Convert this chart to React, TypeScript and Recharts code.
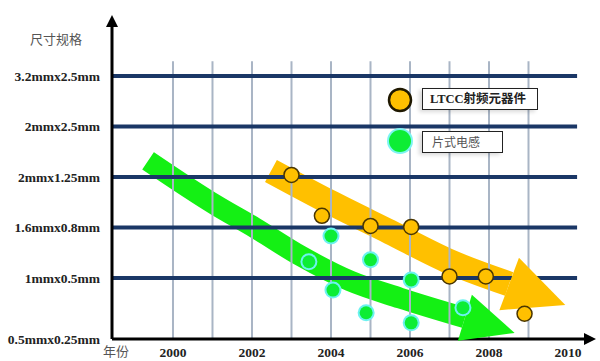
import React from "react";
import { ComposedChart, Line, Scatter, XAxis, YAxis, ReferenceLine } from "recharts";

// axis ranges (years / size levels)
const X_MIN = 1998.456;
const X_MAX = 2010.481;
const Y_MIN = -0.21;
const Y_MAX = 6.03;

const yearTicks = [2000, 2002, 2004, 2006, 2008, 2010];
const gridYears = [2000, 2001, 2002, 2003, 2004, 2005, 2006, 2007, 2008, 2009];
const gridEndYear = 2010.23;
const gridTopLevel = 5.29;

const sizeLabels = ["0.5mmx0.25mm", "1mmx0.5mm", "1.6mmx0.8mm", "2mmx1.25mm", "2mmx2.5mm", "3.2mmx2.5mm"];
const sizeLevels = [Y_MIN, 1, 2, 3, 4, 5];

// LTCC RF components
const ltccYears = [2003, 2003.77, 2005, 2006.03, 2007, 2007.92, 2008.9];
const ltccSizes = [3.04, 2.23, 2.03, 2.01, 1.03, 1.03, 0.29];

// chip inductors
const inductorYears = [2003.44, 2004.0, 2005.0, 2004.05, 2004.89, 2006.03, 2006.03, 2007.34];
const inductorSizes = [1.32, 1.83, 1.36, 0.76, 0.31, 0.96, 0.11, 0.41];

// trend arrows
const greenTrendYears = [1999.37, 2001.11, 2002.08, 2003.22, 2004.48, 2005.75, 2007.39];
const greenTrendSizes = [3.32, 2.43, 1.99, 1.44, 0.94, 0.6, 0.21];
const orangeTrendYears = [2002.48, 2003.97, 2005.49, 2007.01, 2008.51];
const orangeTrendSizes = [3.12, 2.5, 1.91, 1.32, 0.88];

const zip = (xs: number[], ys: number[]) => xs.map((x, i) => ({ x, y: ys[i] }));

const ltccData = zip(ltccYears, ltccSizes);
const inductorData = zip(inductorYears, inductorSizes);
const greenTrend = zip(greenTrendYears, greenTrendSizes);
const orangeTrend = zip(orangeTrendYears, orangeTrendSizes);

const ORANGE = "#ffc000";
const GREEN = "#14f014";
const NAVY = "#1a3766";
const GRID_GREY = "#a9b5c5";

// arrow head drawn on the last point of a thick line
const arrowHead = (fill: string, len: number, half: number, count: number) => (props: any) => {
    const { cx, cy, index, points } = props;
    if (index !== count - 1) return <g key={`ah-${index}`} />;
    let dx = 1;
    let dy = 0.3;
    if (points && points.length > 1) {
        const prev = points[points.length - 2];
        dx = cx - prev.x;
        dy = cy - prev.y;
    }
    const d = Math.hypot(dx, dy);
    dx /= d;
    dy /= d;
    const tip = `${cx + dx * len},${cy + dy * len}`;
    const b1 = `${cx - dy * half},${cy + dx * half}`;
    const b2 = `${cx + dy * half},${cy - dx * half}`;
    return <polygon key={`ah-${index}`} points={`${b1} ${tip} ${b2}`} fill={fill} />;
};

const LtccDot = (props: any) => (
    <circle cx={props.cx} cy={props.cy} r={7.5} fill={ORANGE} stroke="#4a3600" strokeWidth={1.5} />
);

const InductorDot = (props: any) => (
    <g>
        <circle cx={props.cx} cy={props.cy} r={8.5} fill="#6cf2f0" />
        <circle cx={props.cx} cy={props.cy} r={6.5} fill="#0ded35" />
    </g>
);

const XTick = (props: any) => {
    const { x, y, payload } = props;
    if (payload.value === X_MIN) {
        return (
            <text x={x + 4} y={y} dy="0.71em" textAnchor="middle" fontSize={13} fill="#555"
                fontFamily="'Noto Sans CJK SC', sans-serif">年份</text>
        );
    }
    return (
        <text x={x} y={y} dy="0.71em" textAnchor="middle" fontSize={13.5} fontWeight="bold" fill="#222"
            fontFamily="'Liberation Serif', serif">{payload.value}</text>
    );
};

const YTick = (props: any) => {
    const { x, y, payload } = props;
    const i = sizeLevels.indexOf(payload.value);
    return (
        <text x={x} y={y} dy="0.355em" textAnchor="end" fontSize={13.5} fontWeight="bold" fill="#222"
            fontFamily="'Liberation Serif', serif">{sizeLabels[i]}</text>
    );
};

export default function App() {
    return (
        <div style={{ position: "absolute", left: 0, top: 0, width: 600, height: 361, background: "#fff" }}>
            <svg width={0} height={0} style={{ position: "absolute" }}>
                <defs>
                    <marker id="axisArrow" markerUnits="userSpaceOnUse" markerWidth={14} markerHeight={14}
                        refX={3} refY={6} orient="auto-start-reverse">
                        <path d="M0,0 L12,6 L0,12 z" fill="#000" />
                    </marker>
                </defs>
            </svg>
            <ComposedChart width={600} height={361} margin={{ top: 24, right: 13, bottom: 0, left: 12 }}>
                <XAxis type="number" dataKey="x" domain={[X_MIN, X_MAX]} ticks={[X_MIN, ...yearTicks]}
                    interval={0} height={22} tickSize={0} tickMargin={8} tick={<XTick />}
                    axisLine={{ stroke: "#000", strokeWidth: 3, markerEnd: "url(#axisArrow)" }} />
                <YAxis type="number" dataKey="y" domain={[Y_MIN, Y_MAX]} ticks={sizeLevels}
                    interval={0} width={100} tickSize={0} tickMargin={12} tick={<YTick />}
                    axisLine={{ stroke: "#000", strokeWidth: 3, markerStart: "url(#axisArrow)" }} />

                <Line data={greenTrend} dataKey="y" type="monotone" stroke={GREEN} strokeWidth={21}
                    dot={arrowHead(GREEN, 52, 24, greenTrend.length)} activeDot={false}
                    legendType="none" isAnimationActive={false} />
                <Line data={orangeTrend} dataKey="y" type="monotone" stroke={ORANGE} strokeWidth={25}
                    dot={arrowHead(ORANGE, 60, 28, orangeTrend.length)} activeDot={false}
                    legendType="none" isAnimationActive={false} />

                {gridYears.map((yr) => (
                    <ReferenceLine key={`v${yr}`} segment={[{ x: yr, y: Y_MIN }, { x: yr, y: gridTopLevel }]}
                        stroke={GRID_GREY} strokeWidth={2} />
                ))}
                {sizeLevels.slice(1).map((lv) => (
                    <ReferenceLine key={`h${lv}`} segment={[{ x: X_MIN, y: lv }, { x: gridEndYear, y: lv }]}
                        stroke={NAVY} strokeWidth={4} />
                ))}

                <Scatter data={inductorData} shape={<InductorDot />} isAnimationActive={false} />
                <Scatter data={ltccData} shape={<LtccDot />} isAnimationActive={false} />
            </ComposedChart>

            <div style={{ position: "absolute", left: 30, top: 29, fontSize: 13, color: "#555",
                fontFamily: "'Noto Sans CJK SC', sans-serif" }}>尺寸规格</div>

            <svg width={600} height={361} style={{ position: "absolute", left: 0, top: 0, pointerEvents: "none" }}>
                <circle cx={400} cy={100} r={11} fill={ORANGE} stroke="#1f1800" strokeWidth={2.5} />
                <circle cx={400} cy={141} r={13} fill="#7df4f2" />
                <circle cx={400} cy={141} r={11} fill="#0ded35" />
            </svg>
            <div style={{ position: "absolute", left: 422, top: 88, width: 116, height: 22, boxSizing: "border-box",
                border: "1px solid #222", background: "#fff", boxShadow: "-3px 2px 4px rgba(0,0,0,0.15)",
                paddingLeft: 7, lineHeight: "20px", fontSize: 12.5, fontWeight: "bold", color: "#222",
                fontFamily: "'Liberation Serif', 'Noto Sans CJK SC', serif" }}>LTCC射频元器件</div>
            <div style={{ position: "absolute", left: 422, top: 131, width: 81, height: 22, boxSizing: "border-box",
                border: "1px solid #222", background: "#fff", boxShadow: "-3px 2px 4px rgba(0,0,0,0.15)",
                paddingLeft: 9, lineHeight: "20px", fontSize: 12, color: "#555",
                fontFamily: "'Noto Sans CJK SC', sans-serif" }}>片式电感</div>
        </div>
    );
}
